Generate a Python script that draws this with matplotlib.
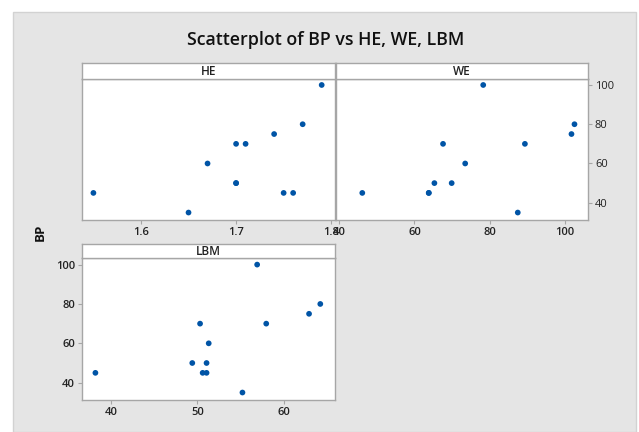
import matplotlib
matplotlib.use("Agg")
import matplotlib.pyplot as plt
from matplotlib.patches import Rectangle

# -------------------------
# Data
# -------------------------
bp = [35, 100, 75, 80, 60, 70, 70, 50, 50, 45, 45, 45]
he = [1.65, 1.79, 1.74, 1.77, 1.67, 1.70, 1.71, 1.70, 1.70, 1.55, 1.75, 1.76]
we = [87.5, 78.3, 101.8, 102.6, 73.5, 67.6, 89.4, 65.3, 69.9, 46.1, 63.8, 63.8]
lbm = [55.2, 56.9, 62.9, 64.2, 51.3, 50.3, 57.95, 49.4, 51.05, 38.2, 50.6, 51.05]

W, H = 639, 432
plt.rcParams["font.family"] = ["Open Sans", "DejaVu Sans"]

fig = plt.figure(figsize=(W / 100, H / 100), dpi=100)
fig.patch.set_facecolor("white")

# gray backdrop
fig.patches.append(Rectangle((13 / W, 0), (636 - 13) / W, 1 - 12 / H,
                             transform=fig.transFigure, facecolor="#e5e5e5",
                             edgecolor="#d2d2d2", lw=1, zorder=-10))


def px_axes(x0, y0, x1, y1):
    return fig.add_axes([x0 / W, 1 - y1 / H, (x1 - x0) / W, (y1 - y0) / H])


def panel(x0, x1, ytop, ybot, strip_top, name, xvals, xlim, xticks, yside):
    ax = px_axes(x0, ytop, x1, ybot)
    ax.scatter(xvals, bp, s=17, color="#0054a6", edgecolors="none", zorder=3)
    ax.set_xlim(*xlim)
    ax.set_ylim(31.2, 103.2)
    ax.set_xticks(xticks)
    ax.set_yticks([40, 60, 80, 100])
    for s in ax.spines.values():
        s.set_color("#a6a6a6")
        s.set_linewidth(1)
    ax.tick_params(colors="#a6a6a6", labelcolor="#222222", length=3, width=0.8,
                   labelsize=8, pad=2)
    for lab in ax.get_xticklabels() + ax.get_yticklabels():
        lab.set_fontweight("semibold")
    if yside == "left":
        ax.tick_params(axis="y", left=True, labelleft=True, right=False, labelright=False)
    elif yside == "right":
        ax.tick_params(axis="y", left=False, labelleft=False, right=True, labelright=True)
    else:
        ax.tick_params(axis="y", left=False, labelleft=False)
    st = px_axes(x0, strip_top, x1, ytop)
    st.set_xticks([])
    st.set_yticks([])
    for s in st.spines.values():
        s.set_color("#a6a6a6")
        s.set_linewidth(1)
    st.text(0.5, 0.45, name, ha="center", va="center", fontsize=8.5,
            fontweight="semibold", color="#222222", transform=st.transAxes)
    return ax


panel(82, 335, 78.7, 220, 63.3, "HE", he, (1.538, 1.804), [1.6, 1.7, 1.8], None)
panel(336, 588, 78.7, 220, 63.3, "WE", we, (39.1, 106.2), [40, 60, 80, 100], "right")
panel(82, 335, 258.3, 400, 244, "LBM", lbm, (36.65, 65.9), [40, 50, 60], "left")

fig.text(326 / W, 1 - 40 / H, "Scatterplot of BP vs HE, WE, LBM", ha="center",
         va="center", fontsize=12.8, fontweight="semibold", color="#111111")
fig.text(40 / W, 1 - 232 / H, "BP", ha="center", va="center", rotation=90,
         fontsize=9.5, fontweight="bold", color="#111111")

fig.savefig("out.png", dpi=100)
